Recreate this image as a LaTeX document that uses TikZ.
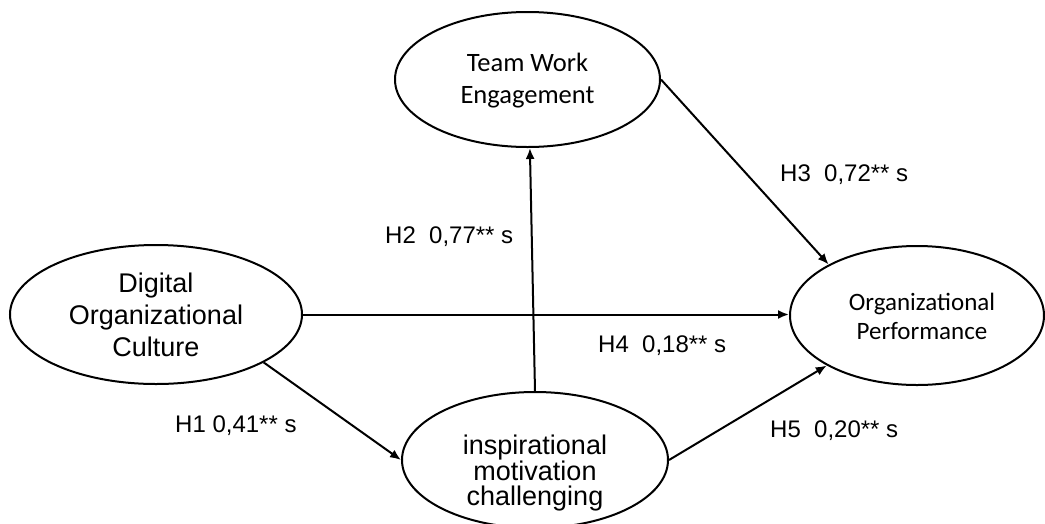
\documentclass[tikz,border=0pt]{standalone}
\usepackage{fontspec}
\setmainfont{Liberation Sans}
\newfontfamily\calibrifont{Carlito}
\usetikzlibrary{arrows.meta,shapes.geometric}
\begin{document}
\begin{tikzpicture}[x=1pt,y=-1pt,
  oval/.style={ellipse,draw,line width=2pt,inner sep=0pt},
  txt/.style={align=center,inner sep=0pt},
  lbl/.style={anchor=base west,inner sep=0pt,font=\fontsize{24}{28}\selectfont},
  conn/.style={line width=2pt,-{Latex[length=11pt,width=9pt]}}]
\useasboundingbox (0,0) rectangle (1045,523);
% ellipses
\node[oval,minimum width=265pt,minimum height=135pt] (TW) at (527.5,79.5) {};
\node[oval,minimum width=292pt,minimum height=139pt] (DOC) at (156,314.5) {};
\node[oval,minimum width=254pt,minimum height=139pt] (OP) at (917,315.5) {};
\node[oval,minimum width=266pt,minimum height=136pt] (IM) at (535,460) {};
% texts
\node[txt,font=\calibrifont\fontsize{26.5}{32}\selectfont] (TWt) at (527.5,81) {Team Work\\Engagement};
\node[txt,font=\fontsize{27}{32}\selectfont] (DOCt) at (156,315) {Digital\\Organizational\\Culture};
\node[txt,font=\fontsize{27}{25}\selectfont] (IMt) at (535,473) {inspirational\\motivation\\challenging};
\node[txt,font=\calibrifont\fontsize{25}{29}\selectfont] (OPt) at (922,316.8) {Organizational\\Performance};
% connectors
\draw[conn] (DOC.east) -- (DOC.east -| OP.west);
\draw[conn] (DOC.-24.6) -- (IM.west);
\draw[conn] (IM.north) -- (TW.-88);
\draw[conn] (TW.east) -- (OP.150.7);
\draw[conn] (IM.east) -- (OP.-151);
% labels
\node[lbl] (H1) at (175,432) {H1 0,41** s};
\node[lbl] (H2) at (385,243) {H2\ \ 0,77** s};
\node[lbl] (H3) at (780,181) {H3\ \ 0,72** s};
\node[lbl] (H4) at (598,352) {H4\ \ 0,18** s};
\node[lbl] (H5) at (770,437) {H5\ \ 0,20** s};
\end{tikzpicture}
\end{document}
